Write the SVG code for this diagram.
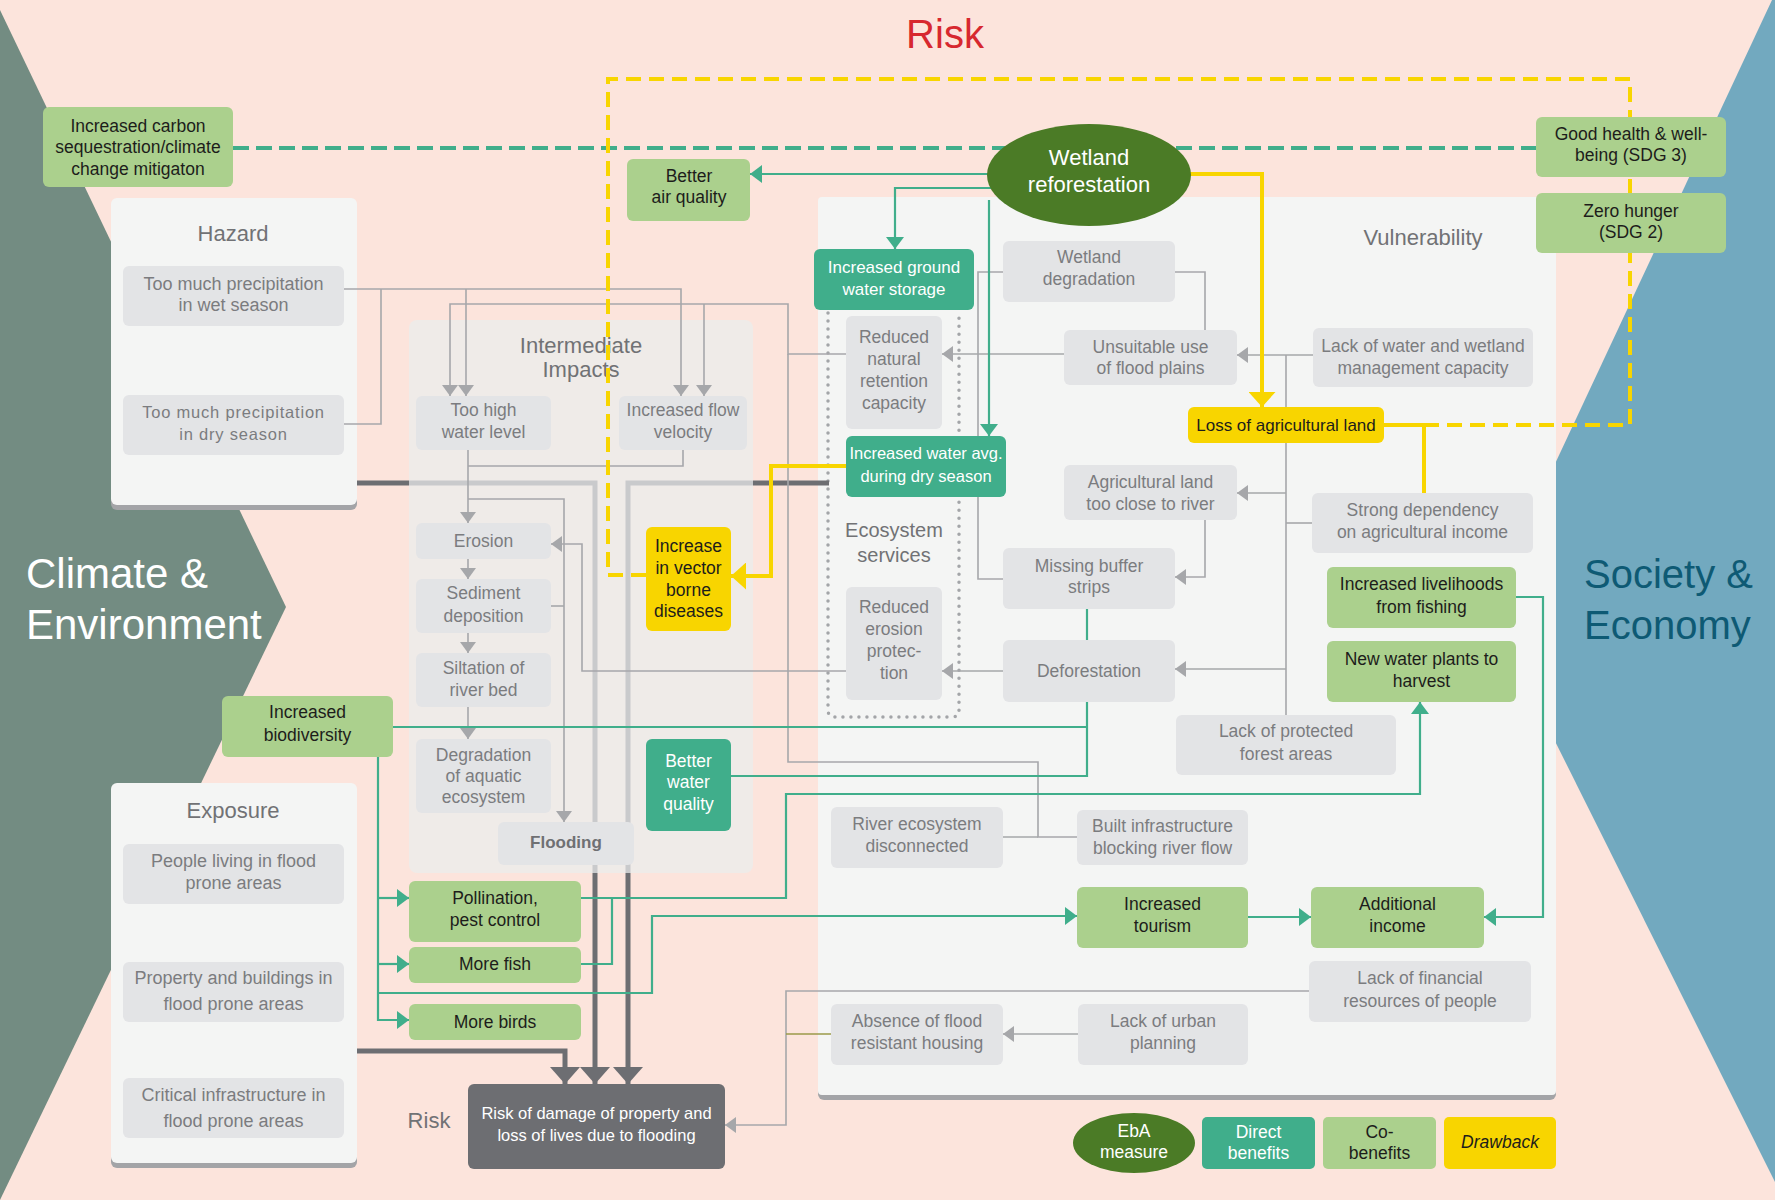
<svg xmlns="http://www.w3.org/2000/svg" width="1775" height="1200" viewBox="0 0 1775 1200">
<defs>
<style>
text{font-family:"Liberation Sans",Arial,sans-serif;text-anchor:middle}
.g{fill:#7b7c7f;font-size:17.5px}
.k{fill:#1d1d1b;font-size:17.5px}
.w{fill:#ffffff;font-size:17.5px}
.h{fill:#717275;font-size:22px}
.gb{fill:#e3e4e6}
.lg{fill:#abd08d}
.tl{fill:#40ae8b}
.yl{fill:#f8d500}
.pn{fill:#f4f5f4}
.sh{fill:#a3a4a7}
.cg{fill:none;stroke:#a6a7aa;stroke-width:1.6}
.ct{fill:none;stroke:#40ae8b;stroke-width:2.2}
.cy{fill:none;stroke:#f8d500;stroke-width:4}
.cd{fill:none;stroke:#6d6e72;stroke-width:5}
.cl{fill:none;stroke:#c9cacc;stroke-width:5}
</style>
<marker id="ag" markerUnits="userSpaceOnUse" markerWidth="11" markerHeight="16" refX="11" refY="8" orient="auto"><path d="M0,0 L11,8 L0,16 z" fill="#a6a7aa"/></marker>
<marker id="at" markerUnits="userSpaceOnUse" markerWidth="12" markerHeight="18" refX="12" refY="9" orient="auto"><path d="M0,0 L12,9 L0,18 z" fill="#40ae8b"/></marker>
<marker id="ay" markerUnits="userSpaceOnUse" markerWidth="15" markerHeight="27" refX="15" refY="13.5" orient="auto"><path d="M0,0 L15,13.5 L0,27 z" fill="#f8d500"/></marker>
<marker id="ad" markerUnits="userSpaceOnUse" markerWidth="17" markerHeight="30" refX="17" refY="15" orient="auto"><path d="M0,0 L17,15 L0,30 z" fill="#6d6e72"/></marker>
</defs>

<rect x="0" y="0" width="1775" height="1200" fill="#fce4dc"/>
<polygon points="0,10 286,607 0,1200" fill="#738c82"/>
<polygon points="1772,0 1775,0 1775,1182 1488,607" fill="#72a9bf"/>
<text x="26" y="588" style="text-anchor:start;font-size:42px;fill:#fff">Climate &amp;</text>
<text x="26" y="639" style="text-anchor:start;font-size:42px;fill:#fff">Environment</text>
<text x="1584" y="588" style="text-anchor:start;font-size:40px;fill:#0e5a74">Society &amp;</text>
<text x="1584" y="639" style="text-anchor:start;font-size:40px;fill:#0e5a74">Economy</text>
<text x="945" y="48" style="font-size:40px;fill:#d7282f">Risk</text>

<g id="panel-hazard">
<rect class="sh" x="111" y="203" width="246" height="307" rx="6"/>
<rect class="pn" x="111" y="198" width="246" height="307" rx="6"/>
<text class="h" x="233" y="241">Hazard</text>
</g>
<g id="panel-exposure">
<rect class="sh" x="111" y="788" width="246" height="380" rx="6"/>
<rect class="pn" x="111" y="783" width="246" height="380" rx="6"/>
<text class="h" x="233" y="818">Exposure</text>
</g>
<g id="panel-intermediate">
<rect x="409" y="320" width="344" height="553" rx="8" fill="#efebe8"/>
<text class="h" x="581" y="353">Intermediate</text>
<text class="h" x="581" y="377">Impacts</text>
</g>
<g id="panel-vulnerability">
<rect class="sh" x="818" y="202" width="738" height="898" rx="6"/>
<rect class="pn" x="818" y="197" width="738" height="898" rx="4"/>
<text class="h" x="1423" y="245">Vulnerability</text>
</g>
<g id="panel-ecosystem-services">
<path d="M828,313 V710 Q828,717 835,717 H952 Q959,717 959,710 V313" fill="none" stroke="#a3a5a8" stroke-width="3.5" stroke-linecap="round" stroke-dasharray="0 8"/>
<text class="h" x="894" y="537" style="font-size:20px">Ecosystem</text>
<text class="h" x="894" y="562" style="font-size:20px">services</text>
</g>

<g id="connectors">
<path class="cl" d="M409,483 H595 V873"/>
<path class="cl" d="M628,873 V483 H753"/>
<path class="cd" d="M357,483 H409"/>
<path class="cd" d="M753,483 H829"/>
<path class="cd" d="M595,873 V1084" marker-end="url(#ad)"/>
<path class="cd" d="M628,873 V1084" marker-end="url(#ad)"/>
<path class="cd" d="M357,1051 H565 V1084" marker-end="url(#ad)"/>

<path class="cg" d="M344,289 H681 V396" marker-end="url(#ag)"/>
<path class="cg" d="M466,289 V396" marker-end="url(#ag)"/>
<path class="cg" d="M344,424 H381 V289"/>
<path class="cg" d="M846,354 H788 V304 H450 V396" marker-end="url(#ag)"/>
<path class="cg" d="M704,304 V396" marker-end="url(#ag)"/>
<path class="cg" d="M1077,837 H1038 V762 H788 V354"/>
<path class="cg" d="M1003,837 H1038"/>
<path class="cg" d="M468,450 V523" marker-end="url(#ag)"/>
<path class="cg" d="M683,450 V466 H468"/>
<path class="cg" d="M468,499 H564 V822" marker-end="url(#ag)"/>
<path class="cg" d="M550,606 H564"/>
<path class="cg" d="M468,559 V579" marker-end="url(#ag)"/>
<path class="cg" d="M468,633 V653" marker-end="url(#ag)"/>
<path class="cg" d="M468,707 V739" marker-end="url(#ag)"/>
<path class="cg" d="M846,671 H582 V544 H551" marker-end="url(#ag)"/>
<path class="cg" d="M1003,272 H978 V579 H1003"/>
<path class="cg" d="M1175,272 H1205 V330"/>
<path class="cg" d="M1064,354 H942" marker-end="url(#ag)"/>
<path class="cg" d="M1313,355 H1237" marker-end="url(#ag)"/>
<path class="cg" d="M1286,355 V715"/>
<path class="cg" d="M1286,493 H1237" marker-end="url(#ag)"/>
<path class="cg" d="M1312,523 H1286"/>
<path class="cg" d="M1286,669 H1175" marker-end="url(#ag)"/>
<path class="cg" d="M1205,520 V577 H1175" marker-end="url(#ag)"/>
<path class="cg" d="M1003,671 H942" marker-end="url(#ag)"/>
<path class="cg" d="M1078,1034 H1003" marker-end="url(#ag)"/>
<path class="cg" d="M1309,991 H786 V1125 H725" marker-end="url(#ag)"/>
<path d="M831,1034 H786" fill="none" stroke="#9b9a4a" stroke-width="1.6"/>

<path d="M233,148 H1536" fill="none" stroke="#40ae8b" stroke-width="4" stroke-dasharray="16 7"/>
<path class="ct" d="M1000,174 H750" marker-end="url(#at)"/>
<path class="ct" d="M1000,188 H895 V249" marker-end="url(#at)"/>
<path class="ct" d="M989,200 V436" marker-end="url(#at)"/>
<path class="ct" d="M1087,609 V640"/>
<path class="ct" d="M1087,702 V776 H731"/>
<path class="ct" d="M393,727 H1087"/>
<path class="ct" d="M378,757 V1020 H409" marker-end="url(#at)"/>
<path class="ct" d="M378,898 H409" marker-end="url(#at)"/>
<path class="ct" d="M378,964 H409" marker-end="url(#at)"/>
<path class="ct" d="M378,993 H652 V916 H1077" marker-end="url(#at)"/>
<path class="ct" d="M581,898 H786 V794 H1420 V702" marker-end="url(#at)"/>
<path class="ct" d="M581,964 H612 V898"/>
<path class="ct" d="M1516,597 H1543 V917 H1484" marker-end="url(#at)"/>
<path class="ct" d="M1248,917 H1311" marker-end="url(#at)"/>

<path d="M1424,425 H1630 V79 H608 V575 H646" fill="none" stroke="#f8d500" stroke-width="4" stroke-dasharray="15 8"/>
<path class="cy" d="M1180,174 H1262 V407" marker-end="url(#ay)"/>
<path class="cy" d="M846,466 H771 V576 H731" marker-end="url(#ay)"/>
<path class="cy" d="M1384,425 H1424 V493"/>
</g>

<g id="n-carbon"><rect class="lg" x="43" y="107" width="190" height="80" rx="6"/>
<text class="k" x="138" y="132">Increased carbon</text><text class="k" x="138" y="153">sequestration/climate</text><text class="k" x="138" y="175">change mitigaton</text></g>
<g id="n-health"><rect class="lg" x="1536" y="117" width="190" height="60" rx="6"/>
<text class="k" x="1631" y="140">Good health &amp; well-</text><text class="k" x="1631" y="161">being (SDG 3)</text></g>
<g id="n-hunger"><rect class="lg" x="1536" y="193" width="190" height="60" rx="6"/>
<text class="k" x="1631" y="217">Zero hunger</text><text class="k" x="1631" y="238">(SDG 2)</text></g>
<g id="n-air"><rect class="lg" x="627" y="159" width="123" height="62" rx="6"/>
<text class="k" x="689" y="182">Better</text><text class="k" x="689" y="203">air quality</text></g>
<g id="n-wetland-reforestation"><ellipse cx="1089" cy="175" rx="102" ry="51" fill="#4b7b26"/>
<text class="w" x="1089" y="165" style="font-size:22px">Wetland</text><text class="w" x="1089" y="192" style="font-size:22px">reforestation</text></g>

<g id="n-wet"><rect class="gb" x="123" y="266" width="221" height="60" rx="6"/>
<text class="g" x="233.5" y="290" style="font-size:18px">Too much precipitation</text><text class="g" x="233.5" y="311" style="font-size:18px">in wet season</text></g>
<g id="n-dry"><rect class="gb" x="123" y="395" width="221" height="60" rx="6"/>
<text class="g" x="233.5" y="418" style="font-size:16.5px;letter-spacing:0.8px">Too much precipitation</text><text class="g" x="233.5" y="440" style="font-size:16.5px;letter-spacing:0.8px">in dry season</text></g>

<g id="n-toohigh"><rect class="gb" x="416" y="396" width="135" height="54" rx="6"/>
<text class="g" x="483.5" y="416">Too high</text><text class="g" x="483.5" y="438">water level</text></g>
<g id="n-flow"><rect class="gb" x="619" y="396" width="128" height="54" rx="6"/>
<text class="g" x="683" y="416">Increased flow</text><text class="g" x="683" y="438">velocity</text></g>
<g id="n-erosion"><rect class="gb" x="416" y="523" width="135" height="36" rx="6"/>
<text class="g" x="483.5" y="547">Erosion</text></g>
<g id="n-sediment"><rect class="gb" x="416" y="579" width="135" height="54" rx="6"/>
<text class="g" x="483.5" y="599">Sediment</text><text class="g" x="483.5" y="622">deposition</text></g>
<g id="n-siltation"><rect class="gb" x="416" y="653" width="135" height="54" rx="6"/>
<text class="g" x="483.5" y="674">Siltation of</text><text class="g" x="483.5" y="696">river bed</text></g>
<g id="n-degradation"><rect class="gb" x="416" y="739" width="135" height="74" rx="6"/>
<text class="g" x="483.5" y="761">Degradation</text><text class="g" x="483.5" y="782">of aquatic</text><text class="g" x="483.5" y="803">ecosystem</text></g>
<g id="n-flooding"><rect class="gb" x="498" y="822" width="136" height="43" rx="6"/>
<text class="g" x="566" y="848" style="font-weight:bold;font-size:17px;fill:#6f7073">Flooding</text></g>
<g id="n-vector"><rect class="yl" x="646" y="527" width="85" height="104" rx="6"/>
<text class="k" x="688.5" y="552">Increase</text><text class="k" x="688.5" y="574">in vector</text><text class="k" x="688.5" y="596">borne</text><text class="k" x="688.5" y="617">diseases</text></g>
<g id="n-water-quality"><rect class="tl" x="646" y="739" width="85" height="92" rx="6"/>
<text class="w" x="688.5" y="767">Better</text><text class="w" x="688.5" y="788">water</text><text class="w" x="688.5" y="810">quality</text></g>

<g id="n-groundwater"><rect class="tl" x="814" y="249" width="160" height="61" rx="6"/>
<text class="w" x="894" y="273" style="font-size:17px">Increased ground</text><text class="w" x="894" y="295" style="font-size:17px">water storage</text></g>
<g id="n-retention"><rect class="gb" x="846" y="316" width="96" height="113" rx="6"/>
<text class="g" x="894" y="343">Reduced</text><text class="g" x="894" y="365">natural</text><text class="g" x="894" y="387">retention</text><text class="g" x="894" y="409">capacity</text></g>
<g id="n-dryseason"><rect class="tl" x="846" y="436" width="160" height="61" rx="6"/>
<text class="w" x="926" y="459" style="font-size:16.5px">Increased water avg.</text><text class="w" x="926" y="482" style="font-size:16.5px">during dry season</text></g>
<g id="n-erosion-protection"><rect class="gb" x="846" y="587" width="96" height="113" rx="6"/>
<text class="g" x="894" y="613">Reduced</text><text class="g" x="894" y="635">erosion</text><text class="g" x="894" y="657">protec-</text><text class="g" x="894" y="679">tion</text></g>

<g id="n-wetland-degradation"><rect class="gb" x="1003" y="241" width="172" height="61" rx="6"/>
<text class="g" x="1089" y="263">Wetland</text><text class="g" x="1089" y="285">degradation</text></g>
<g id="n-unsuitable"><rect class="gb" x="1064" y="330" width="173" height="55" rx="6"/>
<text class="g" x="1150.5" y="353">Unsuitable use</text><text class="g" x="1150.5" y="374">of flood plains</text></g>
<g id="n-lack-water"><rect class="gb" x="1313" y="328" width="220" height="59" rx="6"/>
<text class="g" x="1423" y="352">Lack of water and wetland</text><text class="g" x="1423" y="374">management capacity</text></g>
<g id="n-loss-land"><rect class="yl" x="1188" y="407" width="196" height="36" rx="6"/>
<text class="k" x="1286" y="431" style="font-size:17px">Loss of agricultural land</text></g>
<g id="n-agri-close"><rect class="gb" x="1064" y="465" width="173" height="55" rx="6"/>
<text class="g" x="1150.5" y="488">Agricultural land</text><text class="g" x="1150.5" y="510">too close to river</text></g>
<g id="n-dependency"><rect class="gb" x="1312" y="493" width="221" height="60" rx="6"/>
<text class="g" x="1422.5" y="516">Strong dependency</text><text class="g" x="1422.5" y="538">on agricultural income</text></g>
<g id="n-buffer"><rect class="gb" x="1003" y="548" width="172" height="61" rx="6"/>
<text class="g" x="1089" y="572">Missing buffer</text><text class="g" x="1089" y="593">strips</text></g>
<g id="n-deforestation"><rect class="gb" x="1003" y="640" width="172" height="62" rx="6"/>
<text class="g" x="1089" y="677">Deforestation</text></g>
<g id="n-fishing"><rect class="lg" x="1327" y="567" width="189" height="61" rx="6"/>
<text class="k" x="1421.5" y="590">Increased livelihoods</text><text class="k" x="1421.5" y="613">from fishing</text></g>
<g id="n-water-plants"><rect class="lg" x="1327" y="641" width="189" height="61" rx="6"/>
<text class="k" x="1421.5" y="665">New water plants to</text><text class="k" x="1421.5" y="687">harvest</text></g>
<g id="n-protected-forest"><rect class="gb" x="1176" y="715" width="220" height="60" rx="6"/>
<text class="g" x="1286" y="737">Lack of protected</text><text class="g" x="1286" y="760">forest areas</text></g>
<g id="n-river-disconnected"><rect class="gb" x="831" y="807" width="172" height="61" rx="6"/>
<text class="g" x="917" y="830">River ecosystem</text><text class="g" x="917" y="852">disconnected</text></g>
<g id="n-built-infra"><rect class="gb" x="1077" y="810" width="171" height="55" rx="6"/>
<text class="g" x="1162.5" y="832">Built infrastructure</text><text class="g" x="1162.5" y="854">blocking river flow</text></g>
<g id="n-tourism"><rect class="lg" x="1077" y="887" width="171" height="61" rx="6"/>
<text class="k" x="1162.5" y="910">Increased</text><text class="k" x="1162.5" y="932">tourism</text></g>
<g id="n-income"><rect class="lg" x="1311" y="887" width="173" height="61" rx="6"/>
<text class="k" x="1397.5" y="910">Additional</text><text class="k" x="1397.5" y="932">income</text></g>
<g id="n-financial"><rect class="gb" x="1309" y="961" width="222" height="61" rx="6"/>
<text class="g" x="1420" y="984">Lack of financial</text><text class="g" x="1420" y="1007">resources of people</text></g>
<g id="n-housing"><rect class="gb" x="831" y="1004" width="172" height="61" rx="6"/>
<text class="g" x="917" y="1027">Absence of flood</text><text class="g" x="917" y="1049">resistant housing</text></g>
<g id="n-urban"><rect class="gb" x="1078" y="1004" width="170" height="61" rx="6"/>
<text class="g" x="1163" y="1027">Lack of urban</text><text class="g" x="1163" y="1049">planning</text></g>

<g id="n-people"><rect class="gb" x="123" y="844" width="221" height="60" rx="6"/>
<text class="g" x="233.5" y="867" style="font-size:18px">People living in flood</text><text class="g" x="233.5" y="889" style="font-size:18px">prone areas</text></g>
<g id="n-property"><rect class="gb" x="123" y="962" width="221" height="60" rx="6"/>
<text class="g" x="233.5" y="984" style="font-size:18px">Property and buildings in</text><text class="g" x="233.5" y="1010" style="font-size:18px">flood prone areas</text></g>
<g id="n-critical"><rect class="gb" x="123" y="1078" width="221" height="60" rx="6"/>
<text class="g" x="233.5" y="1101" style="font-size:18px">Critical infrastructure in</text><text class="g" x="233.5" y="1127" style="font-size:18px">flood prone areas</text></g>

<g id="n-biodiversity"><rect class="lg" x="222" y="696" width="171" height="61" rx="6"/>
<text class="k" x="307.5" y="718">Increased</text><text class="k" x="307.5" y="741">biodiversity</text></g>
<g id="n-pollination"><rect class="lg" x="409" y="881" width="172" height="61" rx="6"/>
<text class="k" x="495" y="904">Pollination,</text><text class="k" x="495" y="926">pest control</text></g>
<g id="n-fish"><rect class="lg" x="409" y="947" width="172" height="36" rx="6"/>
<text class="k" x="495" y="970">More fish</text></g>
<g id="n-birds"><rect class="lg" x="409" y="1004" width="172" height="36" rx="6"/>
<text class="k" x="495" y="1028">More birds</text></g>

<g id="n-risk"><rect x="468" y="1084" width="257" height="85" rx="6" fill="#6d6e72"/>
<text class="w" x="596.5" y="1119" style="font-size:16.5px">Risk of damage of property and</text><text class="w" x="596.5" y="1141" style="font-size:16.5px">loss of lives due to flooding</text></g>
<text class="h" x="429" y="1128">Risk</text>

<g id="legend">
<ellipse cx="1134" cy="1143" rx="61" ry="30" fill="#4b7b26"/>
<text class="w" x="1134" y="1137">EbA</text><text class="w" x="1134" y="1158">measure</text>
<rect class="tl" x="1202" y="1117" width="113" height="52" rx="5"/>
<text class="w" x="1258.5" y="1138">Direct</text><text class="w" x="1258.5" y="1159">benefits</text>
<rect class="lg" x="1323" y="1117" width="113" height="52" rx="5"/>
<text class="k" x="1379.5" y="1138">Co-</text><text class="k" x="1379.5" y="1159">benefits</text>
<rect class="yl" x="1444" y="1117" width="112" height="52" rx="5"/>
<text class="k" x="1500" y="1148" style="font-style:italic">Drawback</text>
</g>
</svg>
